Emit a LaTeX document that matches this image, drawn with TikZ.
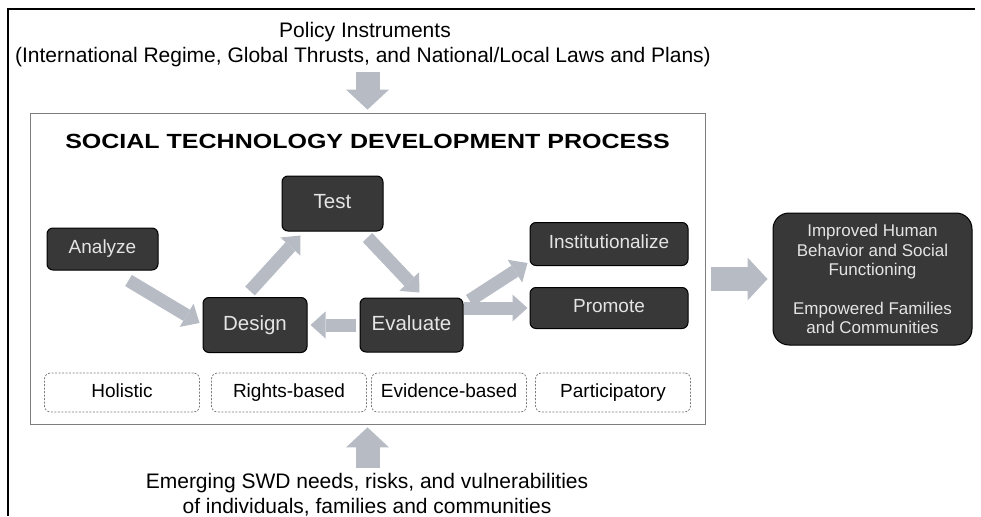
\documentclass[tikz,border=0pt]{standalone}
\usepackage{fontspec}
\setmainfont{Liberation Sans}
\newfontfamily\widefont[FakeStretch=1.22]{Liberation Sans}
\usetikzlibrary{arrows.meta,calc}

\definecolor{boxdark}{RGB}{56,56,56}
\definecolor{boxtext}{RGB}{228,228,228}
\definecolor{arrowgray}{RGB}{182,187,196}
\definecolor{framegray}{RGB}{125,125,125}

\begin{document}
\begin{tikzpicture}[x=1pt,y=-1pt,
  stage/.style={draw=black,line width=1pt,fill=boxdark,rounded corners=6pt,text=boxtext,
    font=\fontsize{20.5}{24}\selectfont,inner sep=0pt,text height=14.7pt,text depth=4pt},
  stagesmall/.style={stage,font=\fontsize{19}{23}\selectfont,text height=13.6pt,text depth=3.8pt},
  principle/.style={draw=framegray,dash pattern=on 2pt off 1.5pt,line width=0.8pt,rounded corners=6pt,
    font=\fontsize{19}{23}\selectfont,minimum width=155pt,minimum height=39pt,inner sep=0pt,
    text height=13.6pt,text depth=3.8pt},
  flow/.style={draw=arrowgray,line width=13pt,-{Triangle[width=27pt,length=15pt,line width=0pt]}},
  bigflow/.style={draw=arrowgray,line width=24pt,-{Triangle[width=43pt,length=20pt,line width=0pt]}},
  caption/.style={font=\fontsize{21}{25}\selectfont,inner sep=0pt,anchor=base}
]
\useasboundingbox (0,0) rectangle (981,516);

%\draw[help lines,step=50] (0,0) grid (981,516);

\draw[line width=2.5pt] (975,9) -- (8,9) -- (8,516);

\node[caption] (policy) at (365,38) {Policy Instruments};
\node[caption] (policynote) at (363,63) {(International Regime, Global Thrusts, and National/Local Laws and Plans)};

\node[draw=framegray,line width=0.8pt,minimum width=675pt,minimum height=311pt,inner sep=0pt] (process) at (367.5,268.5) {};
\node[font=\widefont\bfseries\fontsize{20.5}{24}\selectfont,anchor=base,inner sep=0pt] (title) at (367.5,148.5) {SOCIAL TECHNOLOGY DEVELOPMENT PROCESS};

\node[stagesmall,minimum width=111pt,minimum height=42pt] (analyze) at (102.5,249) {Analyze};
\node[stage,minimum width=101pt,minimum height=55pt] (test) at (332.5,203.5) {Test};
\node[stage,minimum width=104pt,minimum height=55pt] (design) at (255,325) {Design};
\node[stage,minimum width=103pt,minimum height=54pt] (evaluate) at (411.5,325) {Evaluate};
\node[stagesmall,minimum width=158pt,minimum height=43pt] (institutionalize) at (609,244) {Institutionalize};
\node[stagesmall,minimum width=158pt,minimum height=41pt] (promote) at (609,308) {Promote};

\node[principle] (holistic) at (122,392.5) {Holistic};
\node[principle] (rightsbased) at (289,392.5) {Rights-based};
\node[principle] (evidencebased) at (449,392.5) {Evidence-based};
\node[principle] (participatory) at (613,392.5) {Participatory};

\node[draw=black,line width=1pt,fill=boxdark,rounded corners=16pt,text=boxtext,align=center,
  font=\fontsize{17}{19.5}\selectfont,minimum width=199pt,minimum height=132pt,inner sep=0pt] (outcome) at (872.5,279)
  {Improved Human\\Behavior and Social\\Functioning\\[19pt]Empowered Families\\and Communities};

\node[caption] (needs) at (367,488) {Emerging SWD needs, risks, and vulnerabilities};
\node[caption] (needsnote) at (367,513) {of individuals, families and communities};

% cycle
\draw[flow] ($(analyze.south)+(26,10)$) -- ($(design.west)+(-3,-2)$);
\draw[flow] ($(design.north)+(-5,-6)$) -- ($(test.south)+(-32,4)$);
\draw[flow] ($(test.south)+(35,6)$) -- ($(evaluate.north)+(8,-5)$);
\draw[flow,shorten <=4pt,shorten >=3pt] (evaluate) -- (design);
\draw[flow] ($(evaluate.north east)+(6,3)$) -- ($(institutionalize.south west)+(-2,-3)$);
\draw[flow,shorten >=2pt] (evaluate.east |- promote.west) -- (promote.west);

% in and out of the process
\draw[bigflow,shorten <=4pt,shorten >=3pt] (policynote.south -| process.north) -- (process.north);
\draw[bigflow,shorten <=4.5pt,shorten >=3pt] (needs.north -| process.south) -- (process.south);
\draw[bigflow,shorten <=6pt,shorten >=5pt] (process.east |- outcome.west) -- (outcome.west);

\end{tikzpicture}
\end{document}
